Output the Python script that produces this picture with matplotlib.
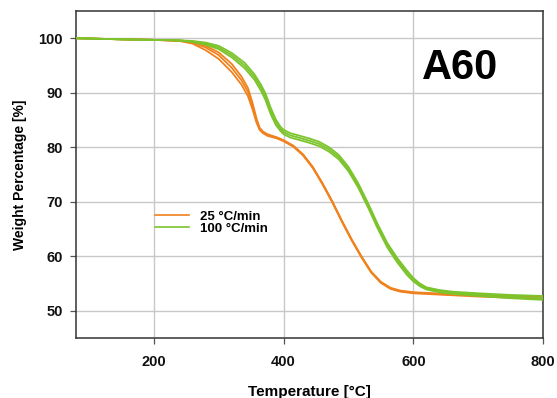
import matplotlib
matplotlib.use("Agg")
import matplotlib.pyplot as plt

# ---- data ----
temp_25 = [80, 150, 200, 240, 260, 280, 300, 320, 335, 345, 352, 358, 363, 368, 375,
           390, 400, 415, 430, 445, 460, 475, 490, 505, 520, 535, 550, 565, 580, 600,
           650, 700, 750, 800]
w25_a = [100.0, 99.8, 99.7, 99.5, 99.2, 98.3, 96.9, 94.6, 92.3, 90.2, 87.6, 85.0, 83.4, 82.8, 82.3,
         81.7, 81.2, 80.2, 78.6, 76.3, 73.3, 70.0, 66.4, 63.0, 59.9, 57.1, 55.2, 54.1, 53.6, 53.3,
         53.0, 52.8, 52.6, 52.4]
w25_b = [100.0, 99.8, 99.7, 99.5, 99.0, 97.8, 96.2, 93.8, 91.5, 89.4, 87.0, 84.6, 83.2, 82.6, 82.1,
         81.6, 81.1, 80.1, 78.5, 76.2, 73.2, 69.9, 66.3, 62.9, 59.8, 57.0, 55.1, 54.0, 53.5, 53.2,
         52.9, 52.6, 52.4, 52.1]
w25_c = [100.0, 99.8, 99.7, 99.6, 99.3, 98.6, 97.4, 95.3, 93.0, 90.9, 88.2, 85.4, 83.6, 82.9, 82.4,
         81.8, 81.3, 80.3, 78.7, 76.4, 73.4, 70.1, 66.5, 63.1, 60.0, 57.2, 55.3, 54.2, 53.7, 53.4,
         53.1, 52.9, 52.7, 52.5]

temp_100 = [80, 150, 200, 240, 260, 280, 300, 320, 340, 355, 365, 372, 380, 388, 395, 400, 410,
            425, 440, 455, 470, 485, 500, 515, 530, 545, 560, 575, 590, 600, 610, 620, 640,
            660, 700, 750, 800]
w100_a = [100.0, 99.8, 99.7, 99.6, 99.4, 99.0, 98.3, 96.9, 95.0, 92.9, 91.0, 89.3, 86.7, 84.6, 83.4,
          82.8, 82.2, 81.7, 81.2, 80.6, 79.6, 78.2, 76.0, 73.0, 69.4, 65.5, 62.0, 59.3, 57.0, 55.7,
          54.7, 54.1, 53.6, 53.3, 53.0, 52.6, 52.3]
w100_b = [100.0, 99.8, 99.7, 99.6, 99.3, 98.8, 98.0, 96.5, 94.5, 92.4, 90.4, 88.7, 86.1, 84.1, 83.0,
          82.4, 81.8, 81.3, 80.8, 80.2, 79.2, 77.8, 75.6, 72.6, 69.0, 65.1, 61.6, 58.9, 56.6, 55.4,
          54.5, 53.9, 53.4, 53.1, 52.7, 52.3, 52.0]
w100_c = [100.0, 99.8, 99.7, 99.6, 99.5, 99.2, 98.6, 97.3, 95.5, 93.4, 91.5, 89.9, 87.3, 85.1, 83.8,
          83.2, 82.6, 82.1, 81.6, 81.0, 80.0, 78.6, 76.4, 73.4, 69.8, 65.9, 62.4, 59.7, 57.4, 56.0,
          55.0, 54.3, 53.8, 53.5, 53.2, 52.9, 52.7]

label_25 = "25 \u00b0C/min"
label_100 = "100 \u00b0C/min"
x_ticks = [200, 400, 600, 800]
y_ticks = [50, 60, 70, 80, 90, 100]

c_orange = "#F0821E"
c_green = "#7CC42C"

plt.rcParams['font.family'] = ['Liberation Sans', 'DejaVu Sans']

fig = plt.figure(figsize=(5.57, 3.98), dpi=100)
ax = fig.add_axes([0.1364, 0.1508, 0.975 - 0.1364, 0.9724 - 0.1508])

for i, w in enumerate([w25_a, w25_b, w25_c]):
    ax.plot(temp_25, w, color=c_orange, lw=1.3, label=label_25 if i == 0 else None, zorder=3)
for i, w in enumerate([w100_a, w100_b, w100_c]):
    ax.plot(temp_100, w, color=c_green, lw=1.3, label=label_100 if i == 0 else None, zorder=4)

ax.set_xlim(80, 800)
ax.set_ylim(45, 105)
ax.set_xticks(x_ticks)
ax.set_yticks(y_ticks)
ax.grid(True, color="#c8c8c8", lw=1.0, zorder=0)
ax.set_axisbelow(True)
for s in ax.spines.values():
    s.set_color("#333333")
    s.set_linewidth(1.1)
ax.tick_params(axis='both', direction='out', length=4.5, width=0.9, color="#555555",
               labelsize=10.5, labelcolor="#111111")
ax.tick_params(axis='x', pad=8)
ax.tick_params(axis='y', pad=5)
for lab in ax.get_xticklabels() + ax.get_yticklabels():
    lab.set_fontweight('bold')

ax.set_xlabel("Temperature [\u00b0C]", fontsize=11, fontweight='bold', labelpad=11)
ax.set_ylabel("Weight Percentage [%]", fontsize=10, fontweight='bold', labelpad=8)

ax.text(672, 94.5, "A60", fontsize=30, fontweight='bold', ha='center', va='center', color="#000000")

leg = ax.legend(loc='center left', bbox_to_anchor=(0.169, 0.353), frameon=False,
                prop={'weight': 'bold', 'size': 9.5}, handlelength=2.6, handletextpad=0.8,
                labelspacing=0.0, borderpad=0, borderaxespad=0)
for lh in leg.get_lines():
    lh.set_linewidth(1.2)

fig.savefig("out.png", dpi=100)
